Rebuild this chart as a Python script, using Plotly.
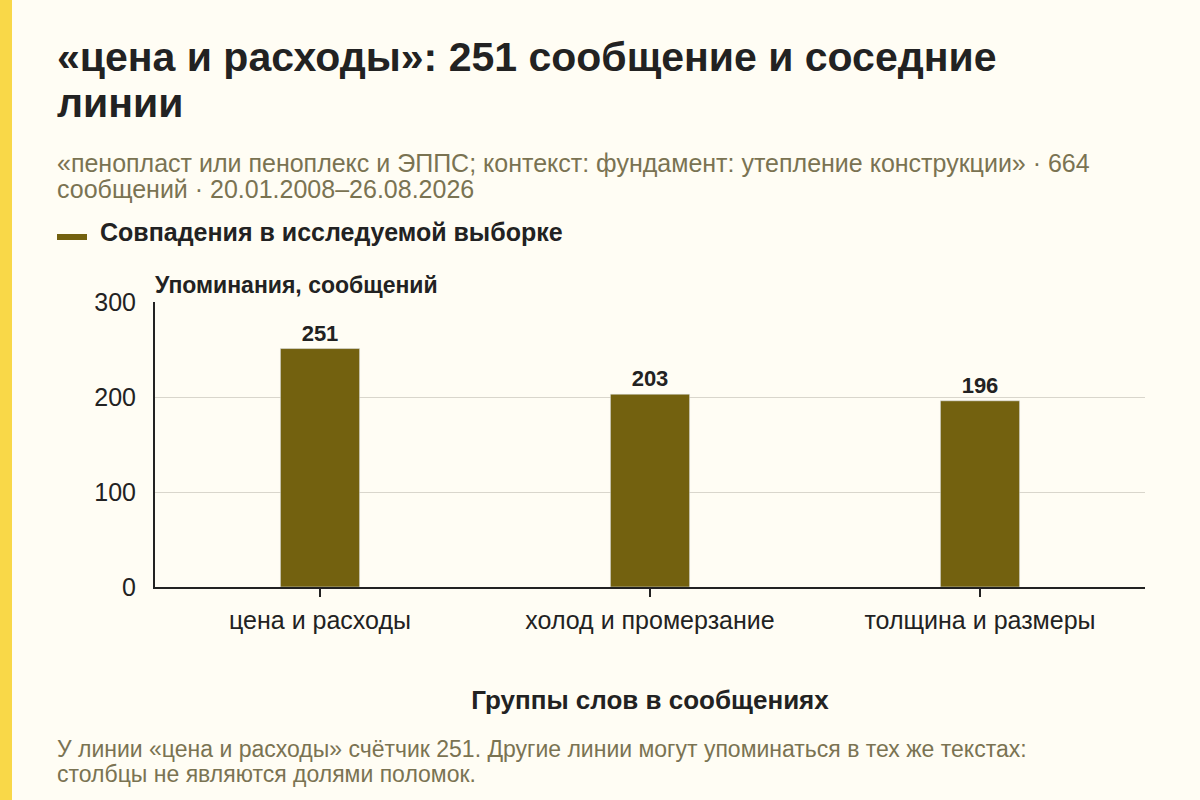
import plotly.graph_objects as go

# данные
categories = ["цена и расходы", "холод и промерзание", "толщина и размеры"]
values = [251, 203, 196]
y_ticks = [0, 100, 200, 300]

title_lines = ["«цена и расходы»: 251 сообщение и соседние", "линии"]
subtitle_lines = ["«пенопласт или пеноплекс и ЭППС; контекст: фундамент: утепление конструкции» · 664",
                  "сообщений · 20.01.2008–26.08.2026"]
legend_name = "Совпадения в исследуемой выборке"
note_lines = ["У линии «цена и расходы» счётчик 251. Другие линии могут упоминаться в тех же текстах:",
              "столбцы не являются долями поломок."]

BG = "#FFFDF4"
BAR = "#73610F"
DARK = "#222222"
MUTED = "#7A7352"
FONT = "Liberation Sans"

# пиксели -> координаты paper (область графика 155..1145 x 302..587)
L, R, T, B = 155, 1145, 302, 587


def px(x):
    return (x - L) / (R - L)


def py(y):
    return (B - y) / (B - T)


def text_line(txt, x, y, size, color, bold=False):
    return dict(text=f"<b>{txt}</b>" if bold else txt,
                xref="paper", yref="paper", x=px(x), y=py(y),
                xanchor="left", yanchor="middle", align="left", showarrow=False,
                font=dict(family=FONT, size=size, color=color))


fig = go.Figure()

fig.add_trace(go.Bar(
    x=categories, y=values,
    marker=dict(color=BAR),
    text=values, textposition="outside",
    textfont=dict(family=FONT, size=22, color=DARK),
    texttemplate="<b>%{text}</b>",
    cliponaxis=False,
    showlegend=False,
))

annotations = []
annotations.append(text_line(title_lines[0], 55, 57, 41, DARK, bold=True))
annotations.append(text_line(title_lines[1], 55, 103, 41, DARK, bold=True))
annotations.append(text_line(subtitle_lines[0], 55, 163, 25, MUTED))
annotations.append(text_line(subtitle_lines[1], 55, 189, 25, MUTED))
annotations.append(text_line(legend_name, 98, 232, 25, DARK, bold=True))
annotations.append(text_line("Упоминания, сообщений", 153, 285, 23, DARK, bold=True))
annotations.append(text_line(note_lines[0], 55, 749, 23, MUTED))
annotations.append(text_line(note_lines[1], 55, 774, 23, MUTED))

fig.update_layout(
    width=1200, height=800,
    paper_bgcolor=BG, plot_bgcolor=BG,
    margin=dict(l=L, r=1200 - R, t=T, b=800 - B),
    font=dict(family=FONT, size=20, color=DARK),
    bargap=0.76,
    showlegend=False,
    xaxis=dict(
        showline=True, linecolor=DARK, linewidth=2,
        ticks="outside", ticklen=8, tickcolor=DARK, tickwidth=2,
        tickfont=dict(size=25, color=DARK),
        ticklabelstandoff=2,
        title=dict(text="<b>Группы слов в сообщениях</b>", font=dict(size=26, color=DARK), standoff=58),
    ),
    yaxis=dict(
        range=[0, 300], tickvals=y_ticks,
        showline=True, linecolor=DARK, linewidth=2,
        showgrid=True, gridcolor="#D9D6CC", gridwidth=1,
        zeroline=False,
        tickfont=dict(size=25, color=DARK),
        ticks="", ticklabelstandoff=12,
    ),
    shapes=[
        # жёлтая полоса слева
        dict(type="rect", xref="paper", yref="paper",
             x0=px(0), x1=px(12), y0=py(0), y1=py(800),
             fillcolor="#F9D848", line=dict(width=0), layer="below"),
        # образец легенды
        dict(type="line", xref="paper", yref="paper",
             x0=px(57), x1=px(87), y0=py(237), y1=py(237),
             line=dict(color=BAR, width=6)),
    ],
    annotations=annotations,
)

fig.write_html("out.html", config={"displayModeBar": False},
               post_script="document.body.style.margin='0';")
